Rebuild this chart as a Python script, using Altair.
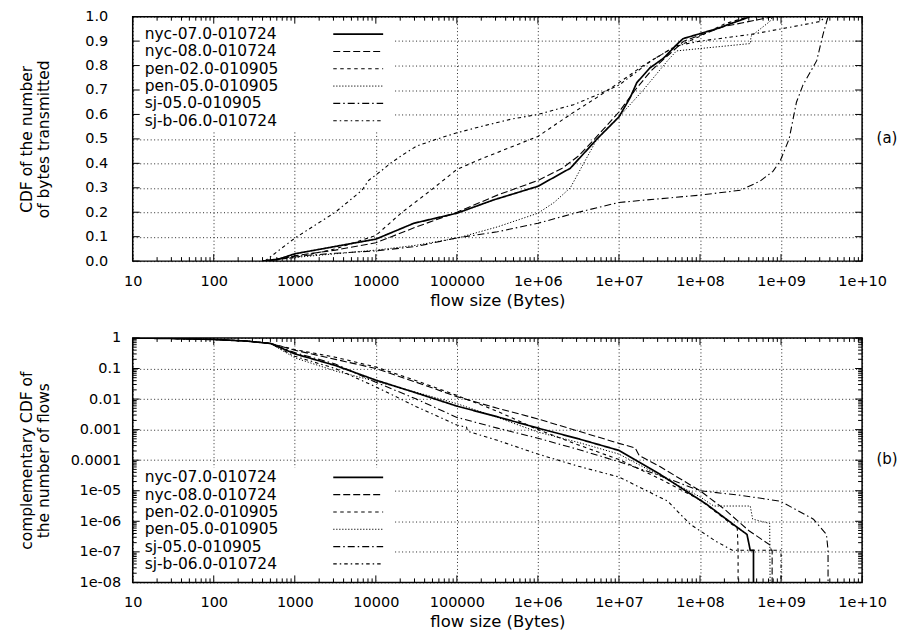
import altair as alt
import pandas as pd

SERIES = ["nyc-07.0-010724", "nyc-08.0-010724", "pen-02.0-010905",
          "pen-05.0-010905", "sj-05.0-010905", "sj-b-06.0-010724"]

# ---- (a) CDF of the number of bytes transmitted: log10(flow size) -> CDF
CDF_LX = {
    "nyc-07.0-010724": [2.6, 2.8, 3.0, 3.5, 4.0, 4.47, 5.0, 5.45, 6.0, 6.4, 6.73, 7.0, 7.14, 7.22, 7.38, 7.55, 7.71, 7.79, 8.2, 8.62],
    "nyc-08.0-010724": [2.6, 2.8, 3.0, 3.5, 4.0, 4.5, 5.0, 5.5, 6.0, 6.3, 6.5, 6.7, 7.0, 7.2, 7.4, 7.6, 7.8, 8.3, 8.9],
    "pen-02.0-010905": [2.6, 3.0, 3.5, 4.0, 4.31, 4.68, 5.0, 5.29, 6.0, 6.4, 6.73, 7.0, 7.3, 7.6, 8.0, 8.3, 8.6],
    "pen-05.0-010905": [2.6, 3.0, 3.5, 4.0, 4.5, 5.0, 5.5, 6.0, 6.2, 6.4, 6.73, 7.0, 7.3, 7.6, 7.71, 8.62, 8.63, 8.86, 8.9],
    "sj-05.0-010905": [2.6, 3.0, 3.5, 4.0, 4.5, 5.0, 5.5, 6.0, 6.5, 7.0, 7.5, 8.0, 8.5, 8.74, 8.9, 8.99, 9.1, 9.19, 9.27, 9.44, 9.52, 9.58],
    "sj-b-06.0-010724": [2.63, 3.0, 3.5, 3.83, 3.91, 4.07, 4.18, 4.31, 4.5, 4.76, 5.0, 5.29, 5.66, 6.0, 6.44, 6.73, 7.0, 7.4, 7.7, 8.0, 8.62, 9.0, 9.48, 9.55],
}
CDF_Y = {
    "nyc-07.0-010724": [0, 0.008, 0.03, 0.06, 0.09, 0.155, 0.196, 0.25, 0.306, 0.38, 0.5, 0.59, 0.67, 0.73, 0.79, 0.83, 0.885, 0.91, 0.95, 1.0],
    "nyc-08.0-010724": [0, 0.006, 0.022, 0.045, 0.075, 0.14, 0.2, 0.27, 0.33, 0.38, 0.43, 0.5, 0.61, 0.7, 0.78, 0.84, 0.9, 0.96, 1.0],
    "pen-02.0-010905": [0, 0.015, 0.05, 0.105, 0.196, 0.29, 0.375, 0.417, 0.51, 0.6, 0.67, 0.73, 0.8, 0.86, 0.92, 0.97, 1.0],
    "pen-05.0-010905": [0, 0.015, 0.03, 0.045, 0.065, 0.094, 0.14, 0.196, 0.24, 0.3, 0.5, 0.59, 0.7, 0.82, 0.86, 0.89, 0.92, 0.98, 1.0],
    "sj-05.0-010905": [0, 0.02, 0.032, 0.042, 0.06, 0.095, 0.12, 0.155, 0.2, 0.24, 0.255, 0.27, 0.29, 0.327, 0.367, 0.41, 0.5, 0.65, 0.72, 0.82, 0.93, 1.0],
    "sj-b-06.0-010724": [0, 0.094, 0.2, 0.29, 0.33, 0.37, 0.40, 0.43, 0.47, 0.5, 0.525, 0.55, 0.58, 0.6, 0.64, 0.68, 0.72, 0.82, 0.88, 0.9, 0.927, 0.95, 0.98, 1.0],
}

# ---- (b) complementary CDF of the number of flows: log10(size) -> log10(CCDF)
HEAD_LX = [1.0, 1.5, 2.0, 2.4, 2.7]
HEAD_LY = [0.0, -0.02, -0.05, -0.1, -0.18]
CCDF_LX = {
    "nyc-07.0-010724": [3.0, 3.5, 4.0, 4.5, 5.0, 5.5, 6.0, 6.5, 7.0, 7.5, 8.08, 8.41, 8.58, 8.62, 8.66, 8.66],
    "nyc-08.0-010724": [3.0, 3.5, 4.0, 4.5, 5.0, 5.5, 6.0, 6.5, 7.0, 7.2, 7.25, 7.5, 8.0, 8.3, 8.6, 8.86, 8.88, 8.89, 8.89],
    "pen-02.0-010905": [3.0, 3.5, 4.0, 4.5, 5.0, 5.5, 6.0, 6.5, 7.0, 7.5, 8.0, 8.46, 8.47, 8.47],
    "pen-05.0-010905": [3.0, 3.5, 4.0, 4.5, 5.0, 5.5, 6.0, 6.5, 7.0, 7.5, 8.0, 8.17, 8.62, 8.65, 8.86, 8.87],
    "sj-05.0-010905": [3.0, 3.5, 4.0, 4.5, 5.0, 5.5, 6.0, 6.5, 7.0, 7.5, 8.0, 8.5, 8.99, 9.4, 9.56, 9.58, 9.58],
    "sj-b-06.0-010724": [3.0, 3.5, 4.0, 4.5, 5.0, 5.12, 5.13, 5.5, 6.0, 6.5, 7.0, 7.6, 7.88, 8.2, 8.4, 9.0, 9.0],
}
CCDF_LY = {
    "nyc-07.0-010724": [-0.52, -0.9, -1.38, -1.8, -2.23, -2.58, -2.95, -3.3, -3.68, -4.45, -5.44, -6.1, -6.43, -6.95, -6.95, -10],
    "nyc-08.0-010724": [-0.4, -0.7, -1.0, -1.45, -1.92, -2.3, -2.65, -3.05, -3.45, -3.6, -3.85, -4.2, -5.0, -5.6, -6.3, -6.77, -6.95, -6.95, -10],
    "pen-02.0-010905": [-0.38, -0.63, -0.95, -1.4, -1.88, -2.4, -3.0, -3.5, -3.98, -4.6, -5.3, -6.23, -6.95, -10],
    "pen-05.0-010905": [-0.65, -1.08, -1.42, -1.78, -2.15, -2.6, -3.08, -3.42, -3.8, -4.5, -5.2, -5.5, -5.5, -5.93, -6.07, -10],
    "sj-05.0-010905": [-0.48, -0.85, -1.45, -2.0, -2.6, -2.95, -3.28, -3.65, -4.05, -4.5, -5.0, -5.15, -5.34, -5.93, -6.43, -6.95, -10],
    "sj-b-06.0-010724": [-0.6, -1.0, -1.6, -2.25, -2.85, -2.92, -3.05, -3.35, -3.8, -4.2, -4.55, -5.34, -6.1, -6.66, -6.95, -6.95, -10],
}

X_DECADES = [10.0 ** d for d in range(1, 11)]
X_MINOR = [k * 10.0 ** d for d in range(1, 10) for k in range(2, 10)]
Y_LIN = [round(i * 0.1, 1) for i in range(11)]
Y_DECADES = [10.0 ** (-d) for d in range(0, 9)]
Y_MINOR = [k * 10.0 ** (-d) for d in range(1, 9) for k in range(2, 10)]

DASHES = [[1, 0], [7, 3], [3.5, 3.5], [1.2, 1.8], [7, 3, 1.5, 3], [3.5, 3, 1.5, 3]]
WIDTHS = [1.7, 1.1, 1.1, 1.0, 1.1, 1.1]

FONT = "DejaVu Sans"
W, H = 731, 245

top_rows, bot_rows = [], []
for s in SERIES:
    for i, (lx, y) in enumerate(zip(CDF_LX[s], CDF_Y[s])):
        top_rows.append({"series": s, "x": 10 ** lx, "y": y, "i": i})
    lxs = HEAD_LX + CCDF_LX[s]
    lys = HEAD_LY + CCDF_LY[s]
    for i, (lx, ly) in enumerate(zip(lxs, lys)):
        bot_rows.append({"series": s, "x": 10 ** lx, "y": 10 ** ly, "i": i})
top_df = pd.DataFrame(top_rows)
bot_df = pd.DataFrame(bot_rows)

xscale = alt.Scale(type="log", domain=[10, 1e10], nice=False)
X_LABEL = ("datum.value < 1e6 ? format(datum.value, 'd') : '1e+' + "
           "(round(log(datum.value)/LN10) < 10 ? '0' : '') + round(log(datum.value)/LN10)")
xaxis = alt.Axis(values=X_DECADES, labelExpr=X_LABEL, title="flow size (Bytes)",
                 grid=True, ticks=False, domain=False, labelPadding=13, titlePadding=5,
                 labelFlush=False, labelOverlap=False, titleFontSize=16.5)


def y_setup(kind):
    if kind == "top":
        sc = alt.Scale(domain=[0, 1], nice=False)
        ax = alt.Axis(values=Y_LIN, format=".1f", grid=True, ticks=False, domain=False,
                      labelPadding=25, title=["CDF of the number", "of bytes transmitted"],
                      titleX=-106, titleY=H / 2, titleAngle=-90, titleBaseline="middle",
                      titleAlign="center", titleLineHeight=16.5)
    else:
        sc = alt.Scale(type="log", domain=[1e-8, 1], nice=False)
        ax = alt.Axis(values=Y_DECADES,
                      labelExpr="datum.value >= 0.0001 ? format(datum.value, '') : '1e-0' + round(-log(datum.value)/LN10)",
                      grid=True, ticks=False, domain=False, labelPadding=12,
                      title=["complementary CDF of", "the number of flows"],
                      titleX=-106, titleY=H / 2, titleAngle=-90, titleBaseline="middle",
                      titleAlign="center", titleLineHeight=16.5)
    return sc, ax


def panel(df, kind, tag, leg_y0, box_y, y_minor):
    ysc, yax = y_setup(kind)
    X = alt.X("x:Q", scale=xscale, axis=xaxis)
    Y = alt.Y("y:Q", scale=ysc, axis=yax)
    layers = []
    one = pd.DataFrame({"a": [0]})
    # legend background box (hides grid)
    layers.append(alt.Chart(one).mark_rect(fill="white").encode(
        x=alt.value(2), x2=alt.value(262), y=alt.value(box_y[0]), y2=alt.value(box_y[1])))
    # data curves
    for s, d, w in zip(SERIES, DASHES, WIDTHS):
        layers.append(alt.Chart(df).transform_filter(alt.datum.series == s).mark_line(
            color="black", strokeWidth=w, strokeDash=d, clip=True).encode(
            x=X, y=Y, order=alt.Order("i:Q")))
    # inward ticks
    for vals, ln in ((X_DECADES, 7), (X_MINOR, 4)):
        tdf = pd.DataFrame({"x": vals})
        layers.append(alt.Chart(tdf).mark_rule(color="black", strokeWidth=1).encode(
            x=X, y=alt.value(0), y2=alt.value(ln)))
        layers.append(alt.Chart(tdf).mark_rule(color="black", strokeWidth=1).encode(
            x=X, y=alt.value(H), y2=alt.value(H - ln)))
    yt = [(Y_LIN if kind == "top" else Y_DECADES, 7)]
    if y_minor:
        yt.append((y_minor, 4))
    for vals, ln in yt:
        tdf = pd.DataFrame({"y": vals})
        layers.append(alt.Chart(tdf).mark_rule(color="black", strokeWidth=1).encode(
            y=Y, x=alt.value(0), x2=alt.value(ln)))
        layers.append(alt.Chart(tdf).mark_rule(color="black", strokeWidth=1).encode(
            y=Y, x=alt.value(W), x2=alt.value(W - ln)))
    # legend entries
    for k, (s, d, w) in enumerate(zip(SERIES, DASHES, WIDTHS)):
        py = leg_y0 + k * 17.35
        layers.append(alt.Chart(pd.DataFrame({"t": [s]})).mark_text(
            align="left", baseline="middle", font=FONT, fontSize=15.5, color="black").encode(
            text="t:N", x=alt.value(12), y=alt.value(py)))
        layers.append(alt.Chart(one).mark_rule(color="black", strokeWidth=w, strokeDash=d).encode(
            x=alt.value(201), x2=alt.value(251), y=alt.value(py)))
    # panel tag
    layers.append(alt.Chart(pd.DataFrame({"t": [tag]})).mark_text(
        align="center", baseline="middle", font=FONT, fontSize=15, color="black").encode(
        text="t:N", x=alt.value(W + 25), y=alt.value(H / 2 - 1)))
    return alt.layer(*layers).properties(width=W, height=H)


top = panel(top_df, "top", "(a)", 17.5, (2, 115), None)
bottom = panel(bot_df, "bottom", "(b)", 139.7, (130, H - 2), Y_MINOR)

chart = alt.vconcat(top, bottom, spacing=77, bounds="flush").properties(
    padding={"left": 19, "top": 7, "right": 2, "bottom": 2},
    background="white"
).configure_view(stroke="black", strokeWidth=1.5).configure_axis(
    labelFont=FONT, titleFont=FONT, labelFontSize=14.5, titleFontSize=15.5,
    labelColor="black", titleColor="black", titleFontWeight="normal",
    gridColor="black", gridDash=[1, 2.5], gridWidth=1, gridOpacity=0.85
)

chart.save("out.html", embed_options={"renderer": "svg", "actions": False})
